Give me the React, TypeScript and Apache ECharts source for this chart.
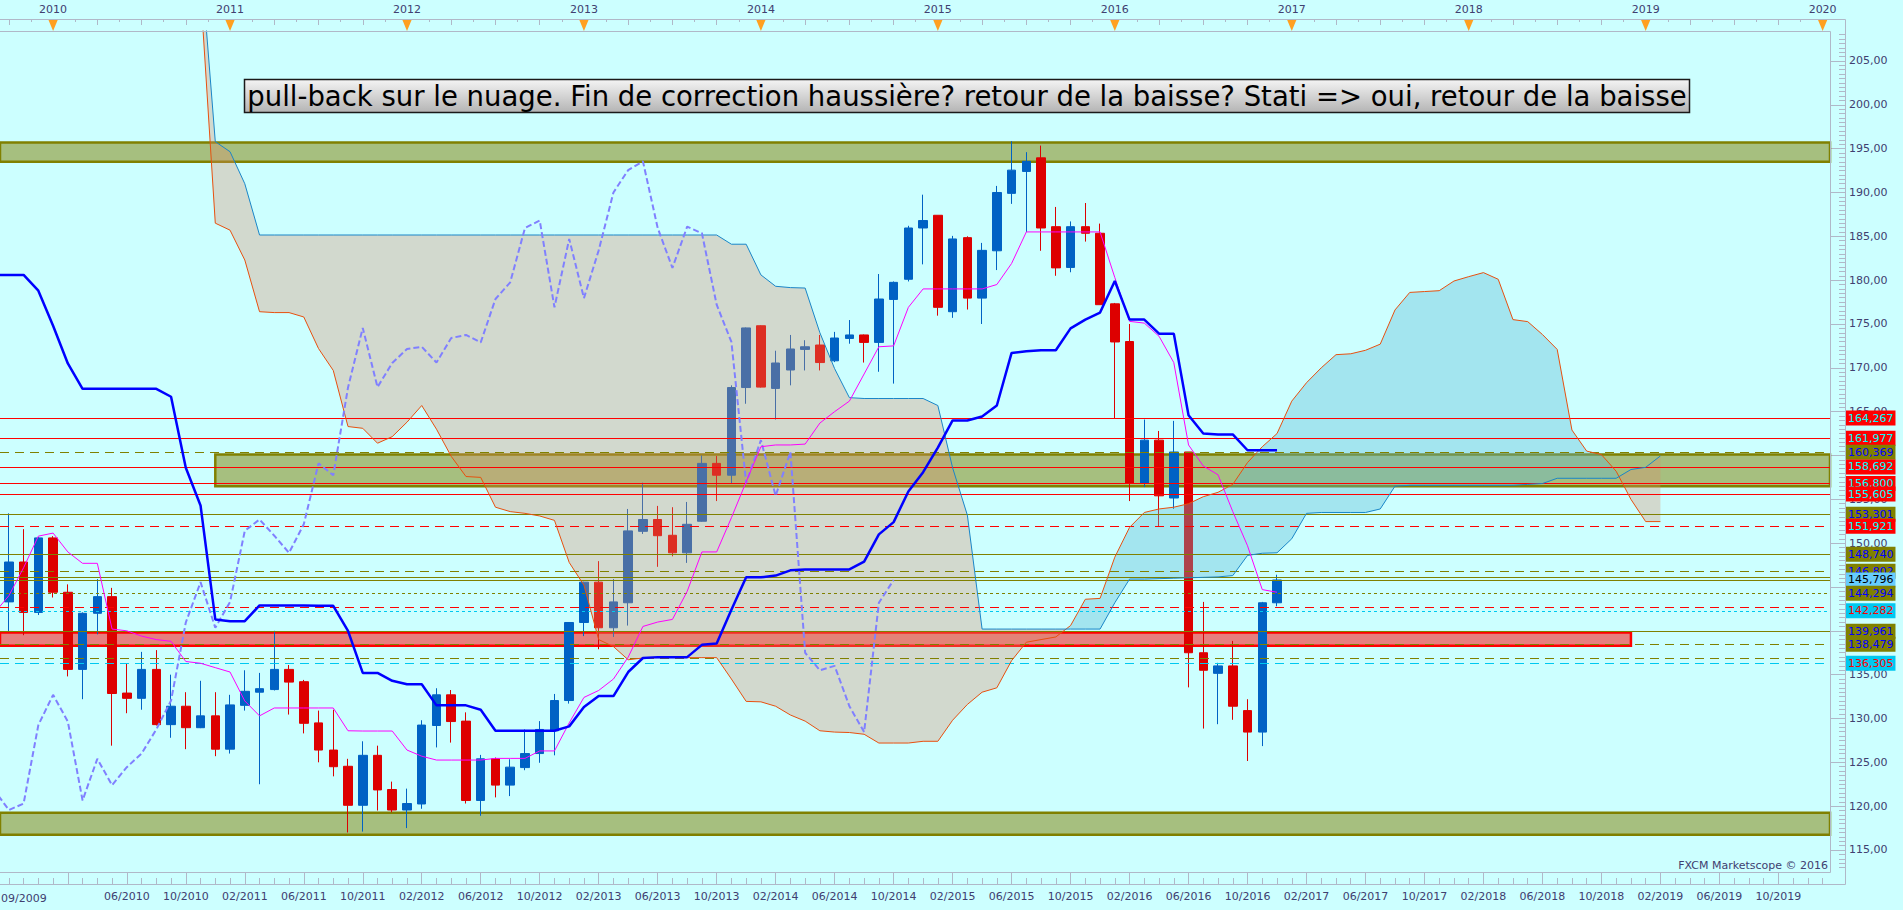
import React, { useEffect, useRef } from "react";
import * as echarts from "echarts";

// ---------------- data ----------------
const candleStartMonth = "10/2009";
const candleOpen = [
  143.3, 147.85, 142.1, 150.6, 144.4, 135.6, 142.0, 143.9, 132.9, 132.3,
  135.6, 129.3, 131.4, 128.95, 130.3, 126.5, 131.5, 133.0, 133.3, 135.6,
  134.2, 129.5, 126.4, 124.55, 120.1, 125.8, 121.9, 119.56, 120.25, 129.2,
  132.7, 129.7, 120.65, 125.4, 122.4, 124.4, 126.0, 128.6, 132.05, 140.95,
  145.55, 140.35, 143.2, 151.35, 152.7, 150.9, 148.9, 152.5, 159.1, 157.75,
  167.75, 174.8, 167.65, 169.75, 172.1, 172.6, 170.8, 173.35, 173.75, 172.9,
  177.8, 180.1, 185.95, 187.4, 176.4, 184.85, 177.95, 183.35, 189.9, 192.4,
  193.95, 186.1, 181.45, 186.1, 185.35, 177.3, 173.0, 156.85, 161.75, 155.15,
  160.4, 137.5, 135.15, 136.0, 130.9, 128.45, 143.2,
];
const candleHigh = [
  153.4, 151.6, 150.7, 150.8, 145.3, 142.1, 145.9, 144.9, 136.3, 137.6,
  137.8, 135.0, 133.0, 134.3, 133.0, 132.7, 135.5, 135.2, 140.0, 136.1,
  134.4, 130.9, 131.0, 125.4, 127.4, 126.9, 122.8, 122.0, 129.8, 133.45,
  133.25, 130.7, 125.85, 125.55, 125.35, 128.75, 129.7, 132.8, 141.0, 145.6,
  147.95, 145.9, 153.9, 156.9, 154.25, 154.1, 154.7, 160.0, 159.95, 168.0,
  174.6, 174.85, 171.95, 173.75, 173.15, 173.75, 174.1, 175.45, 173.8, 180.7,
  179.85, 186.2, 189.75, 187.4, 185.05, 185.0, 184.25, 190.75, 195.85, 194.6,
  195.35, 188.35, 186.7, 188.8, 186.45, 177.4, 175.0, 164.1, 162.8, 163.95,
  160.4, 143.3, 136.35, 138.85, 132.2, 143.3, 146.4,
];
const candleLow = [
  139.9, 139.5, 141.8, 143.8, 134.8, 132.2, 139.6, 126.9, 130.6, 131.0,
  129.2, 127.8, 126.5, 128.9, 125.7, 126.0, 130.9, 122.5, 133.2, 130.45,
  128.3, 125.0, 123.4, 117.0, 117.1, 119.5, 119.3, 117.5, 119.7, 126.7,
  127.25, 120.3, 118.9, 121.0, 121.15, 124.1, 124.95, 125.8, 131.7, 139.4,
  137.9, 139.3, 140.6, 151.05, 147.3, 148.5, 147.75, 152.45, 154.8, 156.8,
  165.9, 167.75, 164.1, 168.0, 169.7, 169.7, 170.65, 172.75, 170.6, 169.55,
  168.2, 179.85, 181.8, 175.95, 175.7, 176.65, 175.0, 181.15, 188.7, 185.5,
  183.35, 180.5, 180.9, 184.4, 177.2, 164.2, 154.8, 156.4, 151.85, 153.9,
  133.55, 128.85, 129.35, 129.85, 125.15, 126.85, 142.8,
];
const candleClose = [
  147.85, 142.1, 150.6, 144.4, 135.6, 142.0, 143.9, 132.85, 132.3, 135.6,
  129.3, 131.4, 128.95, 130.3, 126.5, 131.55, 133.1, 133.4, 135.6, 134.15,
  129.45, 126.4, 124.5, 120.1, 125.8, 121.85, 119.56, 120.3, 129.25, 132.7,
  129.65, 120.65, 125.4, 122.4, 124.45, 126.0, 128.75, 132.05, 140.95, 145.55,
  140.35, 143.3, 151.4, 152.7, 150.85, 148.9, 152.15, 159.1, 157.75, 167.75,
  174.55, 167.8, 170.55, 172.15, 172.4, 170.6, 173.4, 173.75, 172.9, 177.85,
  179.75, 185.95, 186.8, 176.9, 184.7, 177.95, 183.4, 190.0, 192.55, 193.55,
  185.95, 181.4, 186.1, 185.35, 177.2, 172.95, 156.85, 161.75, 155.4, 160.4,
  137.5, 135.5, 136.0, 131.4, 128.45, 143.2, 145.796,
];

const lineStartMonth = "09/2009";
const tenkanSen = [
  142.0, 144.0, 147.2, 150.8, 151.15, 149.0, 147.7, 147.7, 140.2, 140.0,
  139.4, 139.0, 138.8, 136.5, 136.3, 135.8, 135.3, 132.0, 130.3, 131.2,
  131.2, 131.2, 131.2, 131.2, 128.6, 128.57, 128.57, 128.57, 126.4, 125.7,
  125.26, 125.26, 125.26, 125.26, 125.45, 125.45, 125.45, 126.3, 126.3, 129.5,
  132.4, 133.2, 134.5, 137.0, 140.5, 141.0, 141.3, 144.5, 149.0, 149.0,
  152.9, 157.0, 161.0, 161.2, 161.2, 161.3, 163.7, 165.0, 166.2, 169.3,
  172.4, 172.5, 176.9, 179.0, 179.0, 179.0, 179.0, 179.0, 179.5, 181.9,
  185.5, 185.5, 185.5, 185.5, 185.5, 185.5, 180.3, 175.3, 175.1, 173.6,
  170.6, 161.2, 158.8, 157.8, 153.6, 149.7, 144.7, 144.4,
];
const kijunSen = [
  180.6, 180.6, 180.6, 178.8, 174.8, 170.5, 167.6, 167.6, 167.6, 167.6,
  167.6, 167.6, 166.7, 158.6, 154.3, 141.3, 141.1, 141.1, 142.9, 142.9,
  142.9, 142.9, 142.85, 142.85, 140.0, 135.2, 135.2, 134.3, 133.9, 133.9,
  131.5, 131.5, 131.5, 131.0, 128.6, 128.6, 128.6, 128.6, 128.6, 129.1,
  131.3, 132.56, 132.56, 135.3, 136.9, 137.0, 137.0, 137.0, 138.4, 138.55,
  142.4, 146.1, 146.1, 146.3, 146.9, 147.0, 147.0, 147.0, 147.0, 147.9,
  151.0, 152.4, 155.9, 158.1, 160.9, 164.0, 164.0, 164.45, 165.7, 171.7,
  171.9, 172.0, 172.0, 174.5, 175.5, 176.3, 179.9, 175.5, 175.5, 173.9,
  173.9, 164.6, 162.5, 162.4, 162.4, 160.6, 160.6, 160.6,
];

const senkouStartMonth = "11/2010";
const senkouSpanA = [
  213, 186.5, 185.7, 182.3, 176.4, 176.3, 176.3, 175.8, 172.2, 169.7,
  163.3, 163.1, 161.4, 162.15, 163.8, 165.7, 163.0, 159.9, 157.6, 157.5,
  154.1, 153.6, 153.4, 153.1, 152.6, 147.8, 145.2, 139.0, 138.2, 136.7,
  136.9, 136.94, 136.94, 136.94, 136.94, 136.94, 134.5, 131.95, 131.9, 131.4,
  130.4, 129.7, 128.6, 128.45, 128.4, 128.2, 127.2, 127.2, 127.2, 127.4,
  127.4, 129.8, 131.6, 133.0, 133.5, 136.6, 138.7, 139.0, 139.3, 140.6,
  143.6, 143.7, 148.4, 151.8, 153.5, 153.9, 154.1, 154.5, 155.3, 155.8,
  156.7, 159.2, 161.0, 162.5, 166.2, 168.3, 170.0, 171.5, 171.6, 172.0,
  172.7, 176.6, 178.6, 178.7, 178.8, 179.9, 180.4, 180.86, 180.1, 175.5,
  175.27, 173.8, 172.1, 162.9, 160.5, 160.1, 158.2, 155.0, 152.46, 152.46,
];
const senkouSpanB = [
  217, 195.8, 194.65, 191.0, 185.15, 185.15, 185.15, 185.15, 185.15, 185.15,
  185.15, 185.15, 185.15, 185.15, 185.15, 185.15, 185.15, 185.15, 185.15, 185.15,
  185.15, 185.15, 185.15, 185.15, 185.15, 185.15, 185.15, 185.15, 185.15, 185.15,
  185.15, 185.15, 185.15, 185.15, 185.15, 185.15, 184.1, 184.1, 180.6, 179.3,
  179.15, 179.1, 174.0, 169.9, 166.6, 166.5, 166.5, 166.5, 166.5, 166.5,
  165.7, 158.6, 153.2, 140.2, 140.2, 140.2, 140.2, 140.2, 140.2, 140.2,
  140.2, 140.2, 143.2, 145.9, 145.9, 145.95, 146.0, 146.05, 146.1, 146.15,
  146.3, 148.6, 148.85, 148.9, 150.5, 153.4, 153.5, 153.5, 153.5, 153.5,
  153.9, 156.5, 156.6, 156.6, 156.6, 156.6, 156.6, 156.6, 156.6, 156.6,
  156.7, 156.8, 157.4, 157.4, 157.4, 157.4, 157.4, 158.4, 158.65, 159.95,
];
const chikouShiftMonths = 26;

// horizontal levels
const redSolidLevels = [164.267, 161.977, 158.692, 156.8, 155.605];
const redDashedLevels = [151.921];
const redDashedUnlabelled = [142.7];
const oliveSolidLevels = [153.301, 148.74, 139.961];
const oliveSolidUnlabelled = [146.1];
const oliveDashedLevels = [160.369, 146.802, 138.479];
const oliveDashedUnlabelled = [136.9];
const oliveDottedLevels = [144.294];
const cyanDottedLevels = [142.282];
const cyanDashedLevels = [136.305];
const lastPrice = 145.796;

// zones
const greenZoneTops = [195.7, 160.1, 119.25];
const greenZoneBottoms = [193.5, 156.5, 116.75];
const greenZoneStarts = ["", "12/2010", ""];
const redZoneTop = 139.8;
const redZoneBottom = 138.3;
const redZoneEnd = "12/2018";

// tick labels
const priceTicks = [115, 120, 125, 130, 135, 140, 145, 150, 155, 160, 165, 170, 175, 180, 185, 190, 195, 200, 205];
const yearLabels = ["2010", "2011", "2012", "2013", "2014", "2015", "2016", "2017", "2018", "2019", "2020"];
const monthLabels = [
  "06/2010", "10/2010", "02/2011", "06/2011", "10/2011", "02/2012", "06/2012", "10/2012",
  "02/2013", "06/2013", "10/2013", "02/2014", "06/2014", "10/2014", "02/2015", "06/2015",
  "10/2015", "02/2016", "06/2016", "10/2016", "02/2017", "06/2017", "10/2017", "02/2018",
  "06/2018", "10/2018", "02/2019", "06/2019", "10/2019",
];
const firstMonthLabel = "09/2009";
const titleText =
  "pull-back sur le nuage. Fin de correction haussière? retour de la baisse? Stati => oui, retour de la baisse";
const creditText = "FXCM Marketscope © 2016";

// ---------------- helpers & layout ----------------
const monthIndex = (s: string) => {
  const [mm, yy] = s.split("/").map(Number);
  return (yy - 2010) * 12 + (mm - 1);
};

const X_MIN = -3.6;
const X_MAX = 120.5;
const Y_MIN = 112.49;
const Y_MAX = 208.42;
const FONT = "DejaVu Sans";
const AXIS_TEXT = "#404070";
const FRAME = "#b0b8c8";
const BG = "#ccffff";
const BLUE = "#0062c4";
const RED = "#dd0000";
const BEAR_CLOUD = "rgba(222,140,105,0.33)";
const BULL_CLOUD = "rgba(92,183,212,0.36)";

const fmt3 = (v: number) => v.toFixed(3).replace(".", ",");
const fmt2 = (v: number) => v.toFixed(2).replace(".", ",");

function buildOption() {
  const c0 = monthIndex(candleStartMonth);
  const candles = candleOpen.map((o, i) => [c0 + i, o, candleClose[i], candleLow[i], candleHigh[i]]);

  const l0 = monthIndex(lineStartMonth);
  const tenkanData = tenkanSen.map((v, i) => [l0 + i, v]);
  const kijunData = kijunSen.map((v, i) => [l0 + i, v]);

  const s0 = monthIndex(senkouStartMonth);
  const spanAData = senkouSpanA.map((v, i) => [s0 + i, v]);
  const spanBData = senkouSpanB.map((v, i) => [s0 + i, v]);

  const chikouData = candleClose
    .map((c, i) => [c0 + i - chikouShiftMonths, c])
    .filter((p) => p[0] >= X_MIN - 1.5);

  // cloud polygons: runs where span A is above / below span B
  type Run = { bull: boolean; top: number[][]; bot: number[][] };
  const runs: Run[] = [];
  let cur: Run | null = null;
  for (let i = 0; i < senkouSpanA.length; i++) {
    const m = s0 + i;
    const a = senkouSpanA[i];
    const b = senkouSpanB[i];
    const bull = a - b >= 0;
    if (!cur) {
      cur = { bull, top: [[m, a]], bot: [[m, b]] };
      continue;
    }
    if (bull !== cur.bull) {
      const d0 = senkouSpanA[i - 1] - senkouSpanB[i - 1];
      const d1 = a - b;
      const t = d0 / (d0 - d1);
      const mc = m - 1 + t;
      const vc = senkouSpanA[i - 1] + t * (a - senkouSpanA[i - 1]);
      cur.top.push([mc, vc]);
      cur.bot.push([mc, vc]);
      runs.push(cur);
      cur = { bull, top: [[mc, vc], [m, a]], bot: [[mc, vc], [m, b]] };
    } else {
      cur.top.push([m, a]);
      cur.bot.push([m, b]);
    }
  }
  if (cur) runs.push(cur);
  const runPolys = runs.map((r) => ({ bull: r.bull, pts: r.top.concat(r.bot.slice().reverse()) }));

  // levels
  type Lvl = { v: number; color: string; type: any; bg: string; fg: string; label: boolean };
  const DASH = [9, 6];
  const DOT = [3, 3];
  const lv: Lvl[] = [
    ...redSolidLevels.map((v) => ({ v, color: "#ff0000", type: "solid", bg: "#ff0000", fg: "#00ffff", label: true })),
    ...redDashedLevels.map((v) => ({ v, color: "#ff0000", type: DASH, bg: "#ff0000", fg: "#00ffff", label: true })),
    ...redDashedUnlabelled.map((v) => ({ v, color: "#ff0000", type: DASH, bg: "#ff0000", fg: "#00ffff", label: false })),
    ...oliveSolidLevels.map((v) => ({ v, color: "#808000", type: "solid", bg: "#808000", fg: "#0000ff", label: true })),
    ...oliveSolidUnlabelled.map((v) => ({ v, color: "#808000", type: "solid", bg: "#808000", fg: "#0000ff", label: false })),
    ...oliveDashedLevels.map((v) => ({ v, color: "#808000", type: DASH, bg: "#808000", fg: "#0000ff", label: true })),
    ...oliveDashedUnlabelled.map((v) => ({ v, color: "#808000", type: DASH, bg: "#808000", fg: "#0000ff", label: false })),
    ...oliveDottedLevels.map((v) => ({ v, color: "#808000", type: DOT, bg: "#808000", fg: "#0000ff", label: true })),
    ...cyanDottedLevels.map((v) => ({ v, color: "#00c8f0", type: DOT, bg: "#00c8f0", fg: "#ff0000", label: true })),
    ...cyanDashedLevels.map((v) => ({ v, color: "#00c8f0", type: DASH, bg: "#00c8f0", fg: "#ff0000", label: true })),
    { v: lastPrice, color: "#808000", type: "solid", bg: "#66ccff", fg: "#000000", label: true },
  ].sort((a, b) => b.v - a.v);

  const levelData = lv.map((l) => ({
    yAxis: l.v,
    lineStyle: { color: l.color, type: l.type, width: 1 },
    label: {
      show: l.label,
      position: "end",
      distance: 16,
      formatter: fmt3(l.v),
      backgroundColor: l.bg,
      color: l.fg,
      fontFamily: FONT,
      fontSize: 11,
      lineHeight: 13,
      padding: [1, 2, 1, 2],
    },
  }));

  const zoneData: any[] = greenZoneTops.map((t, i) => [
    {
      coord: [greenZoneStarts[i] ? monthIndex(greenZoneStarts[i]) : X_MIN, t],
      itemStyle: { color: "rgba(128,128,0,0.5)", borderColor: "#808000", borderWidth: 2.5 },
    },
    { coord: [X_MAX, greenZoneBottoms[i]] },
  ]);
  zoneData.push([
    {
      coord: [X_MIN, redZoneTop],
      itemStyle: { color: "rgba(255,0,0,0.5)", borderColor: "#ff0000", borderWidth: 2.5 },
    },
    { coord: [monthIndex(redZoneEnd), redZoneBottom] },
  ]);

  // ticks
  const monthlyTicks: number[] = [];
  for (let m = -3; m <= 120; m++) monthlyTicks.push(m);
  const fourMonthTicks: number[] = [];
  for (let m = 1; m <= 120; m += 4) fourMonthTicks.push(m);
  const quarterTicks: number[] = [];
  for (let m = -3; m <= 120; m += 3) quarterTicks.push(m);
  const halfQuarterTicks = quarterTicks.map((m) => m + 1.5).filter((m) => m <= X_MAX);
  const minorPriceTicks: number[] = [];
  for (let v = 113; v <= 208; v += 0.5) if (v % 5 !== 0) minorPriceTicks.push(v);

  const monthLabelMap: Record<number, string> = {};
  monthLabels.forEach((s) => (monthLabelMap[monthIndex(s)] = s));
  const yearValues = yearLabels.map((y) => monthIndex("01/" + y));
  const yearMap: Record<number, string> = {};
  yearLabels.forEach((y, i) => (yearMap[yearValues[i]] = y));

  const labelText = { color: AXIS_TEXT, fontFamily: FONT, fontSize: 11 };
  const baseX: any = {
    type: "value",
    min: X_MIN,
    max: X_MAX,
    offset: 12,
    axisLine: { show: false, onZero: false },
    splitLine: { show: false },
    axisLabel: { show: false },
    axisTick: { show: false },
  };
  const baseY: any = {
    type: "value",
    min: Y_MIN,
    max: Y_MAX,
    position: "right",
    offset: 15,
    axisLine: { show: false, onZero: false },
    splitLine: { show: false },
    axisLabel: { show: false },
    axisTick: { show: false },
  };

  return {
    animation: false,
    backgroundColor: BG,
    textStyle: { fontFamily: FONT },
    grid: { left: 0, right: 73, top: 31, bottom: 38, containLabel: false, outerBoundsMode: "none" },
    xAxis: [
      {
        ...baseX,
        position: "bottom",
        axisTick: { show: true, inside: true, length: 6, customValues: monthlyTicks, lineStyle: { color: FRAME } },
        axisLabel: {
          show: true,
          ...labelText,
          margin: 7,
          customValues: monthLabels.map(monthIndex),
          formatter: (v: number) => monthLabelMap[Math.round(v)] || "",
        },
      },
      {
        ...baseX,
        position: "bottom",
        axisTick: { show: true, inside: true, length: 12, customValues: fourMonthTicks, lineStyle: { color: FRAME } },
      },
      {
        ...baseX,
        position: "top",
        axisTick: { show: true, inside: true, length: 6, customValues: quarterTicks, lineStyle: { color: FRAME } },
        axisLabel: {
          show: true,
          ...labelText,
          margin: 4,
          customValues: yearValues,
          formatter: (v: number) => yearMap[Math.round(v)] || "",
        },
      },
      {
        ...baseX,
        position: "top",
        axisTick: { show: true, inside: true, length: 3, customValues: halfQuarterTicks, lineStyle: { color: FRAME } },
      },
    ],
    yAxis: [
      {
        ...baseY,
        axisTick: { show: true, inside: true, length: 14, customValues: priceTicks, lineStyle: { color: FRAME } },
        axisLabel: { show: true, ...labelText, margin: 4, customValues: priceTicks, formatter: (v: number) => fmt2(v) },
      },
      {
        ...baseY,
        axisTick: { show: true, inside: true, length: 6, customValues: minorPriceTicks, lineStyle: { color: FRAME } },
      },
    ],
    series: [
      {
        name: "zones",
        type: "line",
        data: [],
        z: 1,
        silent: true,
        markArea: { silent: true, data: zoneData },
        markPoint: {
          silent: true,
          symbol: "triangle",
          symbolRotate: 180,
          symbolSize: [10, 12],
          symbolOffset: [0, -6],
          itemStyle: { color: "#ffa020" },
          label: { show: false },
          data: yearValues.map((m) => ({ coord: [m, Y_MAX - 0.001] })),
        },
      },
      {
        name: "candles",
        type: "candlestick",
        data: candles,
        encode: { x: 0, y: [1, 2, 3, 4] },
        barWidth: 9,
        z: 2,
        silent: true,
        itemStyle: { color: BLUE, color0: RED, borderColor: BLUE, borderColor0: RED, borderWidth: 1 },
      },
      {
        name: "cloud",
        type: "custom",
        z: 3,
        clip: true,
        silent: true,
        data: runPolys.map((r) => r.pts[0]),
        encode: { x: 0, y: 1 },
        renderItem: (params: any, api: any) => {
          const r = runPolys[params.dataIndex];
          return {
            type: "polygon",
            shape: { points: r.pts.map((p) => api.coord(p)) },
            style: { fill: r.bull ? BULL_CLOUD : BEAR_CLOUD, stroke: null },
          };
        },
      },
      {
        name: "levels",
        type: "line",
        data: [],
        z: 4,
        silent: true,
        markLine: { silent: true, symbol: ["none", "none"], data: levelData },
      },
      {
        name: "senkouA",
        type: "line",
        data: spanAData,
        showSymbol: false,
        symbol: "none",
        z: 5,
        silent: true,
        lineStyle: { color: "#e8500f", width: 1 },
      },
      {
        name: "senkouB",
        type: "line",
        data: spanBData,
        showSymbol: false,
        symbol: "none",
        z: 5,
        silent: true,
        lineStyle: { color: "#1a86c8", width: 1 },
      },
      {
        name: "chikou",
        type: "line",
        data: chikouData,
        showSymbol: false,
        symbol: "none",
        z: 6,
        silent: true,
        lineStyle: { color: "#8080ff", width: 2, type: [6, 3] },
      },
      {
        name: "tenkan",
        type: "line",
        data: tenkanData,
        showSymbol: false,
        symbol: "none",
        z: 6,
        silent: true,
        lineStyle: { color: "#ff00ff", width: 1 },
      },
      {
        name: "kijun",
        type: "line",
        data: kijunData,
        showSymbol: false,
        symbol: "none",
        z: 7,
        silent: true,
        lineStyle: { color: "#0000ff", width: 2.5 },
      },
    ],
    graphic: [
      { type: "line", silent: true, z: 50, shape: { x1: 0, y1: 19.5, x2: 1845.5, y2: 19.5 }, style: { stroke: FRAME, lineWidth: 1 } },
      { type: "line", silent: true, z: 50, shape: { x1: 1845.5, y1: 19.5, x2: 1845.5, y2: 884.5 }, style: { stroke: FRAME, lineWidth: 1 } },
      { type: "line", silent: true, z: 50, shape: { x1: 0, y1: 884.5, x2: 1845.5, y2: 884.5 }, style: { stroke: FRAME, lineWidth: 1 } },
      { type: "line", silent: true, z: 50, shape: { x1: 0, y1: 31.5, x2: 1830.5, y2: 31.5 }, style: { stroke: FRAME, lineWidth: 1 } },
      { type: "line", silent: true, z: 50, shape: { x1: 1830.5, y1: 31.5, x2: 1830.5, y2: 872.5 }, style: { stroke: FRAME, lineWidth: 1 } },
      { type: "line", silent: true, z: 50, shape: { x1: 0, y1: 872.5, x2: 1830.5, y2: 872.5 }, style: { stroke: FRAME, lineWidth: 1 } },
      {
        type: "group",
        silent: true,
        z: 60,
        children: [
          {
            type: "rect",
            shape: { x: 244.5, y: 79.5, width: 1445, height: 33 },
            style: {
              fill: {
                type: "linear",
                x: 0,
                y: 0,
                x2: 0,
                y2: 1,
                colorStops: [
                  { offset: 0, color: "#f4f4f4" },
                  { offset: 1, color: "#b4b4b4" },
                ],
              },
              stroke: "#1a1a1a",
              lineWidth: 1.5,
            },
          },
          {
            type: "text",
            x: 967,
            y: 96,
            style: {
              text: titleText,
              fill: "#000000",
              font: `27.5px "${FONT}"`,
              align: "center",
              verticalAlign: "middle",
            },
          },
        ],
      },
      {
        type: "text",
        silent: true,
        z: 60,
        x: 1828,
        y: 865,
        style: { text: creditText, fill: AXIS_TEXT, font: `11px "${FONT}"`, align: "right", verticalAlign: "middle" },
      },
      {
        type: "text",
        silent: true,
        z: 60,
        x: 1,
        y: 898,
        style: { text: firstMonthLabel, fill: AXIS_TEXT, font: `11px "${FONT}"`, align: "left", verticalAlign: "middle" },
      },
    ],
  };
}

export default function App() {
  const ref = useRef<HTMLDivElement>(null);
  useEffect(() => {
    if (!ref.current) return;
    const chart = echarts.init(ref.current, null, { renderer: "svg" });
    chart.setOption(buildOption() as any);
    return () => chart.dispose();
  }, []);
  return (
    <div
      ref={ref}
      style={{ position: "absolute", left: 0, top: 0, width: 1903, height: 910, background: BG }}
    />
  );
}
